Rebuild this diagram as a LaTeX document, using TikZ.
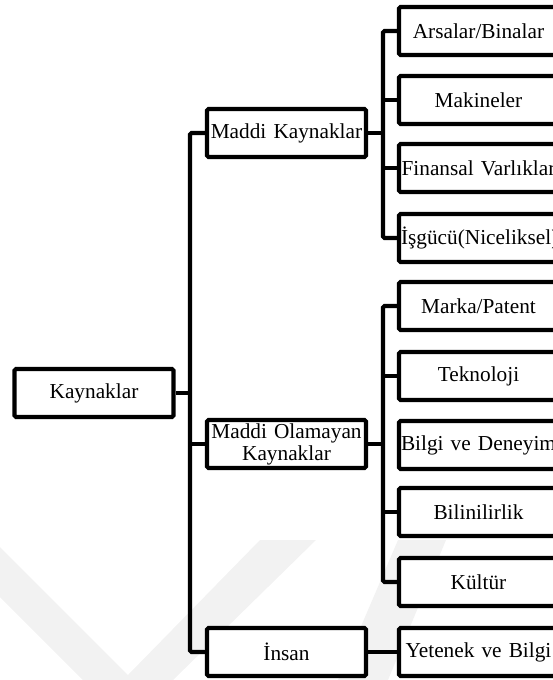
\documentclass[tikz,border=0pt]{standalone}
\usepackage{fontspec}
\setmainfont{Liberation Serif}
\begin{document}
\begin{tikzpicture}[x=1pt,y=-1pt,
  box/.style={draw, line width=4.2pt, rounded corners=1.5pt, fill=white,
    minimum height=48pt, text width=155pt, inner xsep=2pt, inner ysep=0pt,
    align=center, font=\fontsize{21.3}{22}\selectfont},
  wire/.style={line width=4.2pt, rounded corners=1.5pt},
  faint/.style={fill=black!5, draw=none}]
\path[use as bounding box, clip] (0,0) rectangle (553,680);

% faint background emblem
\fill[faint] (0,547) -- (128,675) -- (260,540) -- (316,540) -- (173,680) -- (83,680) -- (0,597) -- cycle;
\fill[faint] (338,680) -- (388,680) -- (446,540) -- (398,540) -- cycle;

% trunk positions
\coordinate (t1) at (190,393);
\coordinate (t2) at (383,133);
\coordinate (t3) at (383,444);

% connectors
\draw[wire] (286.5,133) ++(-79.5,0) -| (t1) |- (207,652);
\draw[wire] (176,393) -- (t1);
\draw[wire] (207,444) -- (190,444);
\draw[wire] (399,31) -| (t2) |- (399,238);
\draw[wire] (366,133) -- (t2);
\draw[wire] (399,100) -- (383,100);
\draw[wire] (399,168) -- (383,168);
\draw[wire] (399,306) -| (t3) |- (399,582);
\draw[wire] (366,444) -- (t3);
\draw[wire] (399,376) -- (383,376);
\draw[wire] (399,512) -- (383,512);
\draw[wire] (366,652) -- (399,652);

% boxes
\node[box] (kay) at (94,393) {Kaynaklar};
\node[box] (mk) at (286.5,133) {Maddi Kaynaklar};
\node[box] (mo) at (286.5,444) {Maddi Olamayan\\Kaynaklar};
\node[box] (ins) at (286.5,652) {İnsan};
\node[box] (ars) at (478.5,31) {Arsalar/Binalar};
\node[box] (mak) at (478.5,100) {Makineler};
\node[box] (fin) at (478.5,168) {Finansal Varlıklar};
\node[box] (isg) at (478.5,238) {İşgücü(Niceliksel)};
\node[box] (mar) at (478.5,306) {Marka/Patent};
\node[box] (tek) at (478.5,376) {Teknoloji};
\node[box] (bil) at (478.5,445) {Bilgi ve Deneyim};
\node[box] (bln) at (478.5,512) {Bilinilirlik};
\node[box] (kul) at (478.5,582) {Kültür};
\node[box] (yet) at (478.5,652) {Yetenek ve Bilgi};
\end{tikzpicture}
\end{document}
